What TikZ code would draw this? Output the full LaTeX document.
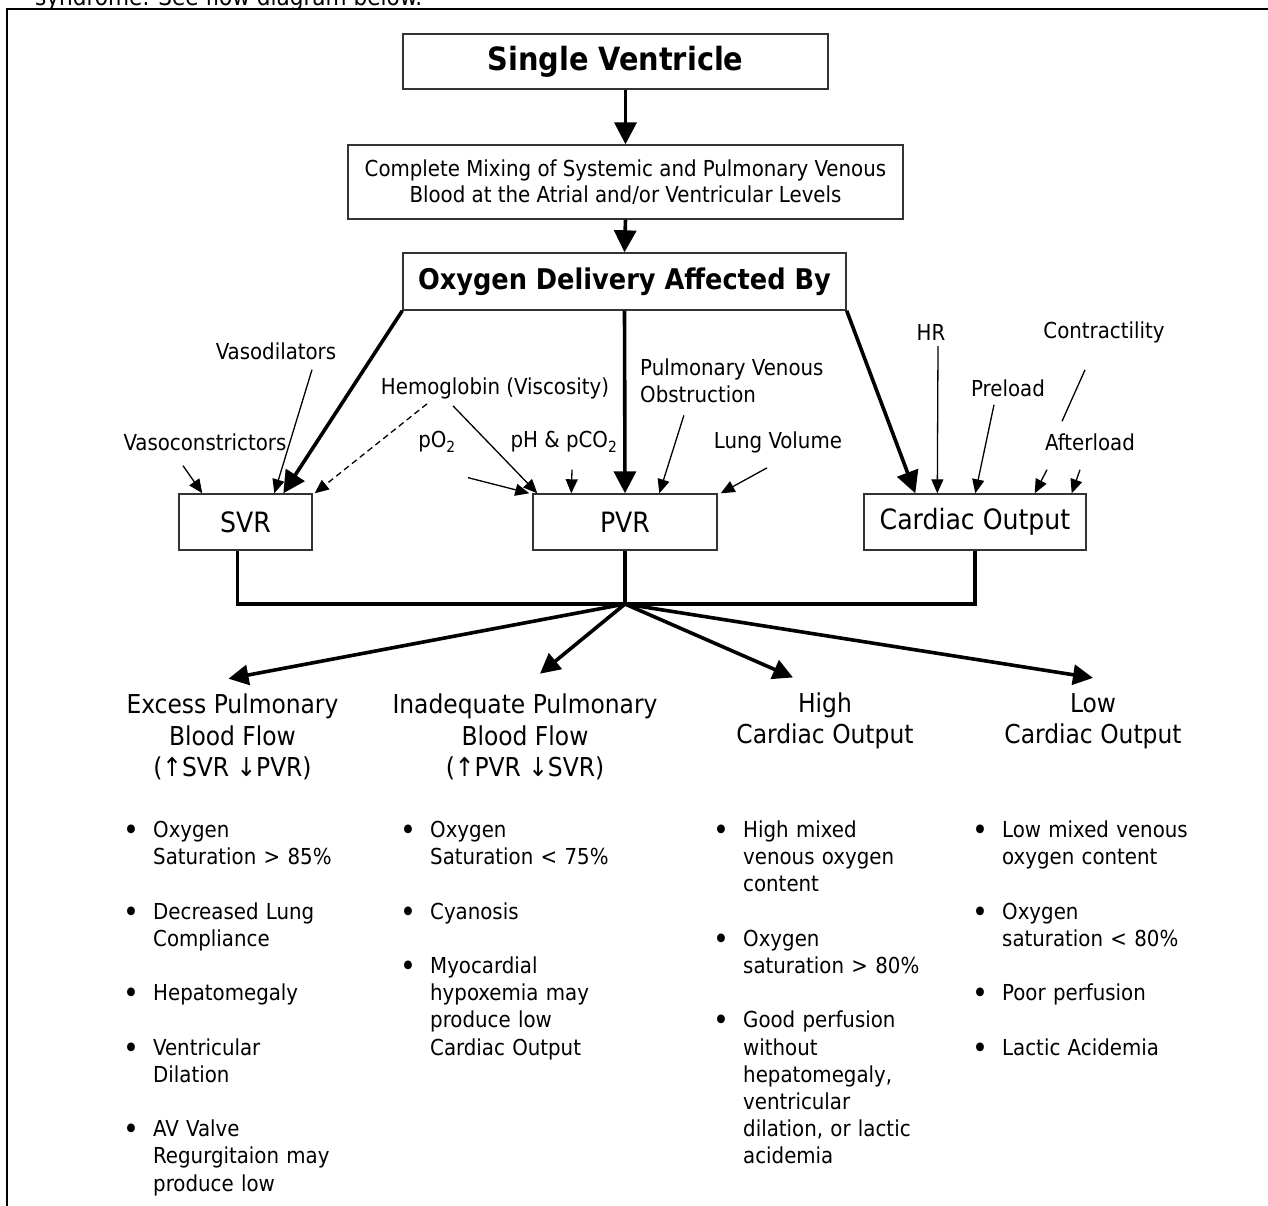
\documentclass[tikz,border=0pt]{standalone}
\usepackage{fontspec}
\setmainfont{DejaVu Sans Condensed}
\usetikzlibrary{arrows.meta}

\newenvironment{bulletlist}{\begin{list}{\fontsize{30}{30}\selectfont\raisebox{-3pt}{\textbullet}}{%
  \setlength{\leftmargin}{32pt}\setlength{\labelwidth}{18pt}%
  \setlength{\labelsep}{14pt}\setlength{\itemsep}{27.2pt}%
  \setlength{\parsep}{0pt}\setlength{\topsep}{0pt}\setlength{\partopsep}{0pt}}}%
  {\end{list}}

\tikzset{
  frame/.style={line width=2.2pt},
  box/.style={draw=black!80, line width=1.4pt, inner sep=0pt, align=center},
  title/.style={box, font=\bfseries\fontsize{32}{36}\selectfont},
  lbl/.style={inner sep=0pt, align=left, font=\fontsize{22}{27}\selectfont},
  head/.style={inner sep=0pt, align=center, font=\fontsize{26}{31.5}\selectfont},
  col/.style={inner sep=0pt, anchor=north west, text width=300pt, font=\fontsize{22}{27.2}\selectfont},
  bigarrow/.style={line width=3.6pt, -{Triangle[length=22pt,width=22pt]}},
  fanarrow/.style={line width=3.6pt, -{Triangle[length=20pt,width=20pt]}},
  thinarrow/.style={line width=1.3pt, -{Triangle[length=14pt,width=12pt]}},
  joinline/.style={line width=3.6pt}
}

\begin{document}
\begin{tikzpicture}[x=1pt,y=-1pt]
\useasboundingbox (0,0) rectangle (1268,1205);
\draw[frame] (7,1215) -- (7,9) -- (1280,9);
\node[inner sep=0pt, anchor=base west, font=\fontsize{24}{24}\selectfont] (intro) at (35,5) {syndrome. See flow diagram below.};

% top boxes
\node[title, minimum width=425pt, minimum height=55pt] (sv) at (615.5,61.5) {Single Ventricle};
\node[box, minimum width=555pt, minimum height=74pt, font=\fontsize{22}{26.5}\selectfont] (mix) at (625.5,182) {Complete Mixing of Systemic and Pulmonary Venous\\Blood at the Atrial and/or Ventricular Levels};
\node[title, minimum width=443pt, minimum height=57pt, font=\bfseries\fontsize{28.5}{32}\selectfont] (oda) at (624.5,281.5) {Oxygen Delivery Affected By};

\draw[bigarrow] (mix.north |- sv.south) -- (mix.north);
\draw[bigarrow] (mix.south) -- (oda.north);

% the three resistances
\node[box, minimum width=133pt, minimum height=56pt, font=\fontsize{28}{30}\selectfont] (svr) at (245.5,522) {SVR};
\node[box, minimum width=184pt, minimum height=56pt, font=\fontsize{28}{30}\selectfont] (pvr) at (625,522) {PVR};
\node[box, minimum width=222pt, minimum height=56pt, font=\fontsize{28}{30}\selectfont] (co) at (975,522) {Cardiac Output};

\draw[bigarrow] (oda.south west) -- ([xshift=105pt]svr.north west);
\draw[bigarrow] (oda.south) -- (pvr.north);
\draw[bigarrow] (oda.south east) -- ([xshift=52pt]co.north west);

% factors
\node[lbl] (vdil) at (276,351) {Vasodilators};
\node[lbl] (vcon) at (205,442) {Vasoconstrictors};
\node[lbl] (hemo) at (495,388) {Hemoglobin (Viscosity)};
\node[lbl] (po) at (437,442) {pO\textsubscript{2}};
\node[lbl] (ph) at (564,442) {pH \& pCO\textsubscript{2}};
\node[lbl, anchor=north west] (pvo) at (640,359) {Pulmonary Venous\\Obstruction};
\node[lbl] (lvol) at (778,442) {Lung Volume};
\node[lbl] (hr) at (931,332) {HR};
\node[lbl] (cont) at (1104,332) {Contractility};
\node[lbl] (pre) at (1008,388) {Preload};
\node[lbl] (aft) at (1090,442) {Afterload};

\draw[thinarrow] ([xshift=-22pt,yshift=-15pt]vcon.south) -- ([xshift=24pt]svr.north west);
\draw[thinarrow] ([xshift=36pt,yshift=-10pt]vdil.south) -- ([xshift=96pt]svr.north west);
\draw[thinarrow, dash pattern=on 6pt off 4pt] ([xshift=-68pt,yshift=-5pt]hemo.south) -- ([xshift=2pt]svr.north east);
\draw[thinarrow] ([xshift=-42pt,yshift=-7pt]hemo.south) -- ([xshift=5pt]pvr.north west);
\draw[thinarrow] ([xshift=31pt,yshift=-25pt]po.south) -- ([xshift=-3pt]pvr.north west);
\draw[thinarrow] ([xshift=8pt,yshift=-17pt]ph.south) -- ([xshift=39pt]pvr.north west);
\draw[thinarrow] ([xshift=-48pt,yshift=-12pt]pvo.south) -- ([xshift=127pt]pvr.north west);
\draw[thinarrow] ([xshift=-11pt,yshift=-15pt]lvol.south) -- ([xshift=3pt]pvr.north east);
\draw[thinarrow] ([xshift=7pt,yshift=-6pt]hr.south) -- ([xshift=74pt]co.north west);
\draw[thinarrow] ([xshift=-14pt,yshift=-8pt]pre.south) -- ([xshift=112pt]co.north west);
\draw[line width=1.3pt] ([xshift=-19pt,yshift=-27pt]cont.south) -- ([xshift=-28pt,yshift=12pt]aft.north);
\draw[thinarrow] ([xshift=-43pt,yshift=-19pt]aft.south) -- ([xshift=-52pt]co.north east);
\draw[thinarrow] ([xshift=-10pt,yshift=-19pt]aft.south) -- ([xshift=-15pt]co.north east);

% joining the three boxes
\coordinate (hub) at (625,604);
\draw[joinline] ([xshift=-8pt]svr.south) |- (hub) -| (co.south);
\draw[joinline] (pvr.south) -- (hub);

% the four outcomes
\node[head] (exc) at (232.5,737) {Excess Pulmonary\\Blood Flow\\(↑SVR ↓PVR)};
\node[head] (inad) at (525,737) {Inadequate Pulmonary\\Blood Flow\\(↑PVR ↓SVR)};
\node[head] (high) at (825,721) {High\\Cardiac Output};
\node[head] (low) at (1093,721) {Low\\Cardiac Output};

\draw[fanarrow] (hub) -- ([xshift=-4pt,yshift=15pt]exc.north);
\draw[fanarrow] (hub) -- ([xshift=15pt,yshift=20pt]inad.north);
\draw[fanarrow] (hub) -- ([xshift=-32pt,yshift=15pt]high.north);
\draw[fanarrow] (hub) -- ([yshift=15pt]low.north);

% bullet lists
\node[col] (exclist) at (121,810) {\begin{bulletlist}
\item Oxygen\\Saturation > 85\%
\item Decreased Lung\\Compliance
\item Hepatomegaly
\item Ventricular\\Dilation
\item AV Valve\\Regurgitaion may\\produce low
\end{bulletlist}};
\node[col] (inadlist) at (398,810) {\begin{bulletlist}
\item Oxygen\\Saturation < 75\%
\item Cyanosis
\item Myocardial\\hypoxemia may\\produce low\\Cardiac Output
\end{bulletlist}};
\node[col] (highlist) at (711,810) {\begin{bulletlist}
\item High mixed\\venous oxygen\\content
\item Oxygen\\saturation > 80\%
\item Good perfusion\\without\\hepatomegaly,\\ventricular\\dilation, or lactic\\acidemia
\end{bulletlist}};
\node[col] (lowlist) at (970,810) {\begin{bulletlist}
\item Low mixed venous\\oxygen content
\item Oxygen\\saturation < 80\%
\item Poor perfusion
\item Lactic Acidemia
\end{bulletlist}};
\end{tikzpicture}
\end{document}
